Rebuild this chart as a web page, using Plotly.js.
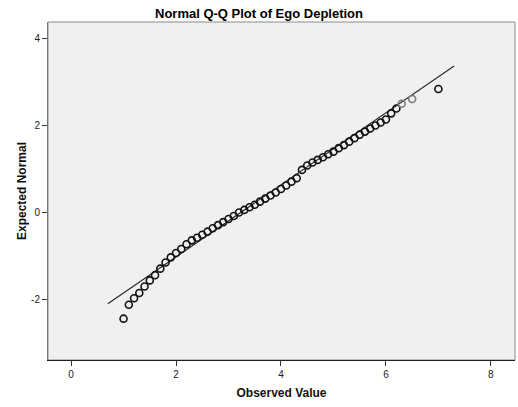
<!DOCTYPE html>
<html>
<head>
<meta charset="utf-8">
<script src="https://cdn.plot.ly/plotly-3.0.1.min.js"></script>
<style>html,body{margin:0;padding:0;background:#fff;}#chart{width:518px;height:407px;}</style>
</head>
<body>
<div id="chart"></div>
<script>
// Observed values (distinct scores) and their expected normal quantiles
const observedValues = [1.0,1.1,1.2,1.3,1.4,1.5,1.6,1.7,1.8,1.9,
  2.0,2.1,2.2,2.3,2.4,2.5,2.6,2.7,2.8,2.9,
  3.0,3.1,3.2,3.3,3.4,3.5,3.6,3.7,3.8,3.9,
  4.0,4.1,4.2,4.3,4.4,4.5,4.6,4.7,4.8,4.9,
  5.0,5.1,5.2,5.3,5.4,5.5,5.6,5.7,5.8,5.9,
  6.0,6.1,6.2,6.3,6.5,7.0];
const expectedNormal = [-2.43,-2.11,-1.96,-1.84,-1.69,-1.55,-1.43,-1.28,-1.14,-1.02,
  -0.92,-0.83,-0.72,-0.63,-0.57,-0.50,-0.43,-0.35,-0.28,-0.21,
  -0.14,-0.07,0.01,0.07,0.13,0.19,0.26,0.33,0.40,0.47,
  0.55,0.63,0.72,0.80,0.99,1.09,1.16,1.22,1.28,1.35,
  1.41,1.49,1.56,1.64,1.72,1.80,1.87,1.94,2.01,2.08,
  2.15,2.29,2.40,2.51,2.62,2.85];
// Reference line parameters (normal mean and SD) and its x extent
const refMean = 3.22;
const refSD = 1.207;
const refLineX = [0.70, 7.30];
const refLineY = refLineX.map(v => (v - refMean) / refSD);

const xTicks = [0, 2, 4, 6, 8];
const yTicks = [-2, 0, 2, 4];

const lightPoints = [6.3, 6.5];
const markerColors = observedValues.map(v => lightPoints.includes(v) ? '#7a7a7a' : '#111111');

const traces = [
  {
    x: refLineX, y: refLineY, type: 'scatter', mode: 'lines',
    line: {color: '#2a2a2a', width: 1.2}, hoverinfo: 'skip', showlegend: false
  },
  {
    x: observedValues, y: expectedNormal, type: 'scatter', mode: 'markers',
    marker: {symbol: 'circle-open', size: 7, color: markerColors, line: {width: 1.6, color: markerColors}},
    showlegend: false
  }
];

const font = 'Liberation Sans, Arial, sans-serif';
const layout = {
  width: 518, height: 407,
  margin: {l: 48, r: 3, t: 22, b: 47, pad: 0},
  paper_bgcolor: '#ffffff',
  plot_bgcolor: '#f0f0f0',
  font: {family: font, size: 10, color: '#222'},
  title: {text: '<b>Normal Q-Q Plot of Ego Depletion</b>', font: {family: font, size: 13, color: '#000'},
          x: 0.5, xref: 'container', xanchor: 'center', y: 0.968, yref: 'container', yanchor: 'middle'},
  xaxis: {
    range: [-0.44, 8.46], tickvals: xTicks, ticktext: xTicks.map(String),
    showgrid: false, zeroline: false, showline: true, linecolor: '#222', linewidth: 1,
    ticks: 'outside', ticklen: 5, tickcolor: '#333', tickwidth: 1,
    tickfont: {family: font, size: 10, color: '#222'},
    title: {text: '<b>Observed Value</b>', font: {family: font, size: 12, color: '#111'}, standoff: 9}
  },
  yaxis: {
    range: [-3.38, 4.39], tickvals: yTicks, ticktext: yTicks.map(String),
    showgrid: false, zeroline: false, showline: true, linecolor: '#777', linewidth: 1,
    ticks: 'outside', ticklen: 5, tickcolor: '#333', tickwidth: 1,
    tickfont: {family: font, size: 10, color: '#222'},
    title: {text: '<b>Expected Normal</b>', font: {family: font, size: 12, color: '#111'}, standoff: 1}
  },
  shapes: [{type: 'rect', xref: 'paper', yref: 'paper', x0: 0, x1: 1, y0: 0, y1: 1,
            line: {color: '#8a8a8a', width: 1}, layer: 'below'}]
};

Plotly.newPlot('chart', traces, layout, {displayModeBar: false, staticPlot: true});
</script>
</body>
</html>
